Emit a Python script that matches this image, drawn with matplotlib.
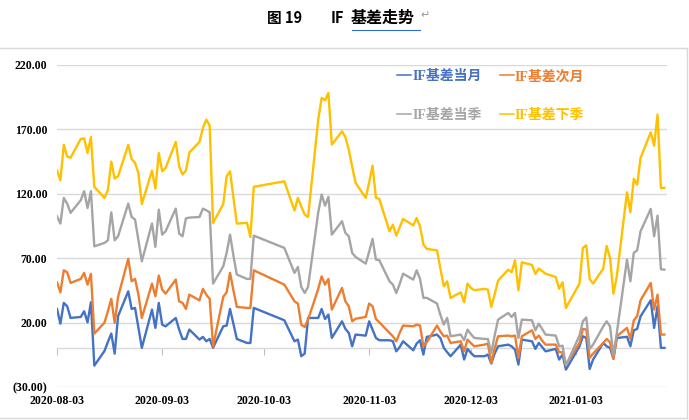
import matplotlib
matplotlib.use('Agg')
import matplotlib.pyplot as plt
import matplotlib.dates as mdates
import pandas as pd
from matplotlib.lines import Line2D
from matplotlib.ticker import FuncFormatter

plt.rcParams['font.family'] = ['Liberation Serif', 'Noto Sans CJK SC']
plt.rcParams['font.weight'] = 'bold'

# trading days (CFFEX calendar, National Day and New Year closed)
holidays = list(pd.date_range('2020-10-01', '2020-10-08')) + [pd.Timestamp('2021-01-01')]
trade_days = pd.bdate_range('2020-08-03', '2021-01-29', freq='C', holidays=holidays)

series_names = ['IF基差当月', 'IF基差次月', 'IF基差当季', 'IF基差下季']
colors = ['#4472C4', '#ED7D31', '#A5A5A5', '#FFC000']

basis_m0 = [30.6, 19.2, 35.3, 32.7, 23.6, 24.4, 28.8, 20.2, 35.8, -13.4, -2, 5, 11.5, -4.1, 25, 44.3, 30.6, 31.4, 16, 0.4, 30.1,
            15.9, 35.3, 18.4, 17.1, 23.6, 14.6, 7.3, 7.3, 14.6, 6.8, 8.9, 5.5, 7.3, 0.5, 17.1, 17.7, 30.6, 19, 7.3, 4.2, 4.2, 31.4,
            21.8, 5.5, 6.8, -6.1, -4.1, 23.6, 23.6, 30.6, 22.8, 26.2, 8.1, 21, 15.1, 12, 1.6, 10.7,
            9.9, 21, 14.6, 8.1, 6.3, 6.3, 5.5, -2.3, 1, 5.5, -1.5, 3.7, 6.3, -4.8, 8.9, 10.7, 8, 0.4, -3, -6.1, 2.9,
            -8.7, -0.4, -3.5, -6.1, -6.1, -4.8, -11.8, -4, 1.6, 2.9, 1.6, -1, -12.6, 6.8, 5.5, -0.4, 4.2, 1, -2.3, -0.4, -8.7, -4.8, -16.5,
            1.6, 9.4, 8.1, -16, -8.7, 4.2, 1.6, 0.4, -8, 8, 9, 1.6, 14, 15.1, 24.9, 37.3, 15.9, 32.7, 0.4, 0.4]
basis_m1 = [51.3, 43.5, 60.6, 59.1, 50.8, 53.9, 58.6, 49.5, 57.8, 11.5, 20, 28.8, 38.4, 19.8, 40, 69.5, 52.1, 53.9, 41.7, 23.6, 50.3,
            40.4, 56.5, 45.6, 42.5, 53.4, 36.5, 35.3, 30.6, 41.7, 37.3, 46.2, 41.7, 38.4, 1.6, 40, 43.5, 58.6, 45, 32.2, 31.4, 31.4, 60.6,
            49.5, 36.5, 34.8, 18.4, 16.6, 22.3, 46.2, 55.9, 49.5, 53.9, 30.1, 46.9, 36.5, 32.7, 21, 23,
            24.4, 34.8, 32.7, 22.8, 20.2, 12, 9.4, 5.5, 12, 17.7, 17.1, 18.4, 17.7, 1.6, 4.7, 17.7, 13, 9.4, 9.9, 4.2, 5.5,
            -2.3, 6.8, 4, 1.6, 2.9, 3.7, -11.3, 0, 9.4, 9.9, 9.4, 9.9, -7.4, 9.4, 14, 7.3, 9.9, 6, 2.9, 2.9, -3, -3, -12.6,
            4.2, 15.1, 14.6, -7.4, -4.1, 4.2, 7.3, 4.7, -8.2, 9.4, 15.9, 7.3, 21.8, 24.9, 37.3, 50.8, 30.1, 41.7, 10.7, 10.7]
basis_q0 = [102.5, 96.9, 116.8, 112.4, 105.2, 115, 122, 109, 122, 79.2, 81.9, 83.9, 105.6, 83.9, 87, 112.4, 102, 100, 84, 67.6, 96.9,
            78.8, 107.7, 88.3, 90.9, 108.5, 89.1, 87, 101, 101.5, 102, 108.5, 107.2, 105.6, 50.3, 63.7, 74.1, 88.3, 72, 57.3, 53.9, 53.9, 87.5,
            78, 58.6, 63.2, 47.7, 43, 47.7, 105.6, 119.4, 110.8, 117.6, 88.3, 98.7, 89.6, 87, 74.1, 71,
            65.8, 75, 85, 68.9, 68.4, 52.1, 49.5, 43, 50, 58, 53.4, 60.6, 53.9, 39.2, 39.2, 34.8, 26, 18.4, 23.6, 9.4, 10.7,
            6.3, 14.6, 11, 8.1, 7.3, 7.3, -3.5, 10, 22.3, 27.5, 24.4, 27.5, 8.1, 22.3, 21.8, 14, 19.2, 15, 10.7, 9.9, 1.6, 2.1, -13.4,
            10, 21, 24, -0.4, 2.9, 17, 21, 17.1, -5, 12, 68.9, 52.1, 74.1, 76.1, 90.9, 108.3, 87, 103, 61.4, 61.1]
basis_q1 = [138, 130.5, 158, 149, 148, 162.6, 163, 151.7, 164, 125.4, 116.8, 123, 145, 131.8, 133.6, 158, 147, 144, 136, 112, 138,
            124, 151.7, 137.5, 140, 160.3, 141.4, 135, 138, 152, 160.3, 171, 177.6, 173, 97.4, 112, 133.6, 137.5, 117, 96.9, 97.4, 86.5, 125.4,
            129.7, 107, 116.8, 110, 103.9, 102, 177.6, 194.5, 192.6, 198.3, 158.2, 168.5, 164, 154.3, 141, 128.5,
            116.8, 129, 141.9, 116.8, 116, 90.9, 96, 87.5, 94, 100.5, 95.5, 101.3, 94.8, 80.6, 77.2, 76.1, 62, 48.2, 52, 39.2, 43.5,
            35.8, 50.3, 47, 45.1, 46.2, 45.6, 32.2, 42, 52.6, 61.1, 59, 68.4, 45.1, 66.8, 64.8, 57.8, 61.9, 60, 58, 55.4, 46.2, 51.3, 31.4,
            50.3, 78, 80, 53.9, 50.3, 62, 79.5, 70.2, 42.5, 56, 121.2, 105.6, 131.6, 127.1, 147.9, 167.7, 157.4, 181.5, 124.6, 124.6]

tick_dates = pd.to_datetime(['2020-08-03', '2020-09-03', '2020-10-03', '2020-11-03', '2020-12-03', '2021-01-03'])
y_ticks = [-30, 20, 70, 120, 170, 220]

fig = plt.figure(figsize=(6.89, 4.2), dpi=100)
ax = fig.add_axes([57 / 689, 1 - 387 / 420, 610 / 689, 322 / 420])

ax.axhline(0, color='#d9d9d9', lw=1, zorder=1)
for vals, c, name in zip([basis_m0, basis_m1, basis_q0, basis_q1], colors, series_names):
    ax.plot(trade_days, vals, color=c, lw=1.7, label=name, zorder=3)

ax.set_ylim(-30, 220)
ax.set_xlim(pd.Timestamp('2020-08-03'), pd.Timestamp('2021-01-29 19:00'))
ax.set_yticks(y_ticks)
ax.yaxis.set_major_formatter(FuncFormatter(lambda v, p: f'{v:.2f}' if v >= 0 else f'({abs(v):.2f})'))
ax.yaxis.grid(True, color='#d9d9d9', lw=1)
ax.set_axisbelow(True)
ax.set_xticks(tick_dates)
ax.xaxis.set_major_formatter(mdates.DateFormatter('%Y-%m-%d'))
ax.tick_params(axis='both', length=0, labelsize=8.5)
ax.tick_params(axis='y', pad=7)
ax.tick_params(axis='x', pad=6)
for s in ax.spines.values():
    s.set_visible(False)

# tick marks sit on the zero line (category axis crosses at 0)
zero_ax = ax.secondary_xaxis(30 / 250)
zero_ax.set_xticks(mdates.date2num(tick_dates))
zero_ax.set_xticklabels([])
zero_ax.tick_params(length=5, width=0.8, color='#bfbfbf', direction='out')
zero_ax.spines['bottom'].set_visible(False)

handles = [Line2D([], [], color=c, lw=1.1) for c in colors]
order = [0, 2, 1, 3]
fig.legend([handles[i] for i in order], [series_names[i] for i in order], ncol=2,
           loc='upper left', bbox_to_anchor=(397 / 689, 1 - 70 / 420), frameon=False,
           handlelength=1.0, handletextpad=0.1, columnspacing=1.3, labelspacing=1.85,
           borderpad=0, borderaxespad=0, labelcolor='linecolor',
           prop=dict(family=['Liberation Serif', 'Noto Sans CJK SC'], weight='bold', size=10))

# title line
ty = 1 - 18 / 420
title_font = dict(fontweight='bold', family=['Noto Sans CJK SC'], va='center', ha='left')
fig.text(267 / 689, ty, '图 19', fontsize=10.5, **title_font)
fig.text(331 / 689, ty, 'IF', fontsize=10.5, **title_font)
fig.text(351 / 689, ty, '基差走势', fontsize=11.5, **title_font)
fig.add_artist(Line2D([352 / 689, 420 / 689], [1 - 30 / 420] * 2, color='#2f6ed8', lw=0.8))
fig.text(420 / 689, 1 - 15 / 420, '↵', fontsize=8, color='#9a9a9a', family='DejaVu Sans',
         fontweight='normal', va='center', ha='left')

# chart frame
frame_c = '#d9d9d9'
fig.add_artist(Line2D([0, 687 / 689], [1 - 48 / 420] * 2, color=frame_c, lw=1))
fig.add_artist(Line2D([687 / 689] * 2, [1 - 48 / 420, 1 - 418 / 420], color=frame_c, lw=1))
fig.add_artist(Line2D([0, 687 / 689], [1 - 418 / 420] * 2, color=frame_c, lw=1))

fig.savefig('out.png', dpi=100)
